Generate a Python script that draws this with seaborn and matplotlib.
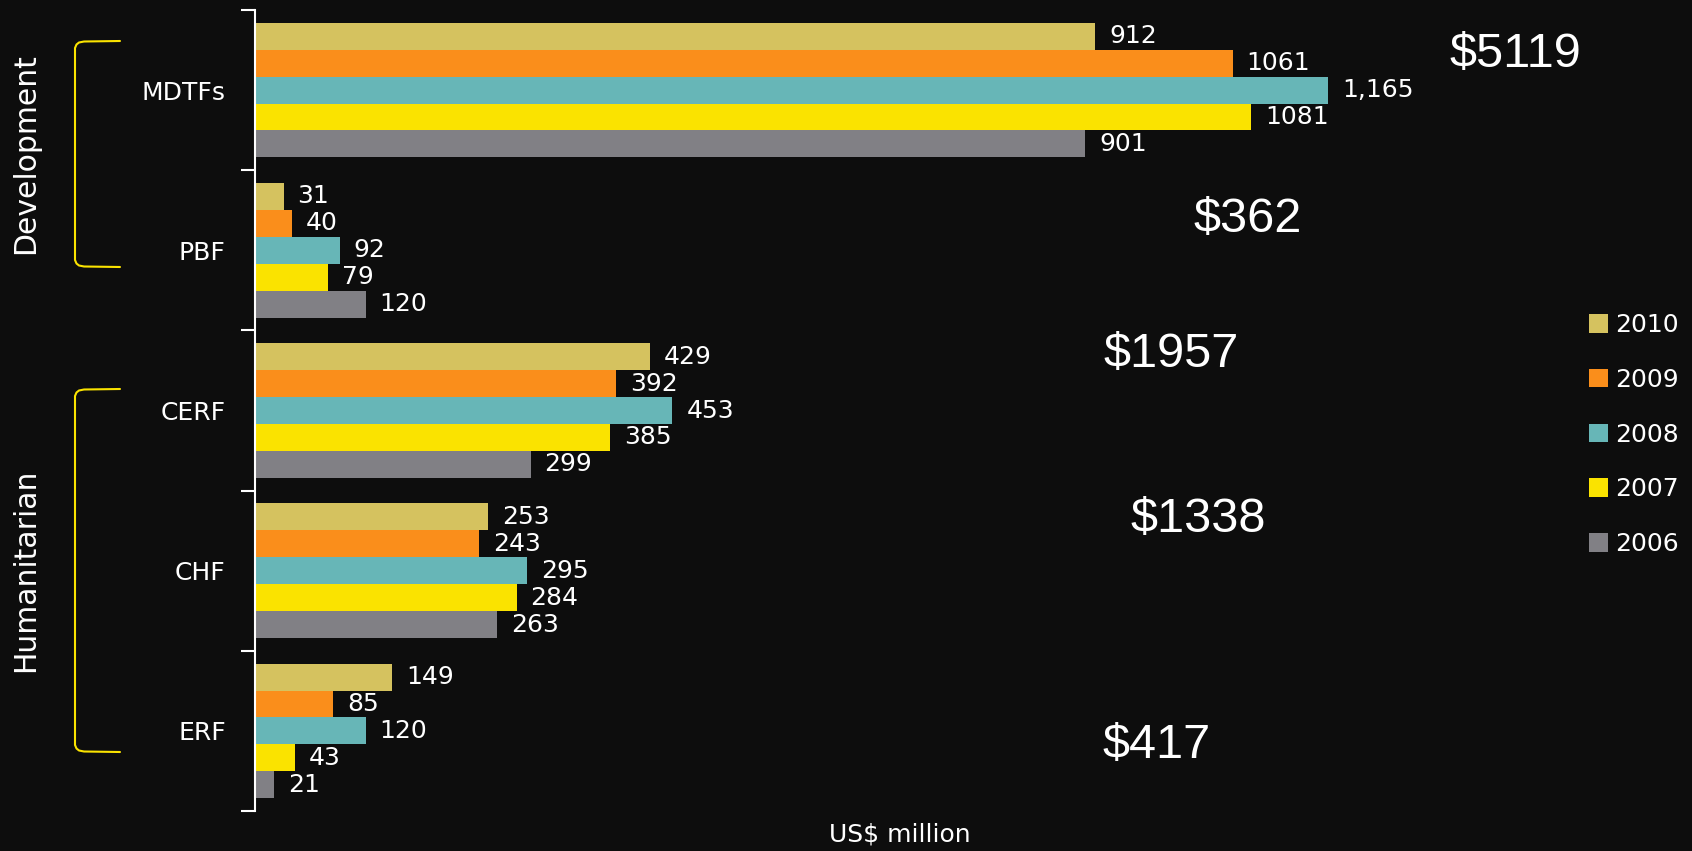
import matplotlib
matplotlib.use("Agg")
import matplotlib.pyplot as plt
import pandas as pd
import seaborn as sns
from matplotlib.lines import Line2D

# data
funds = ["MDTFs", "PBF", "CERF", "CHF", "ERF"]
years = ["2010", "2009", "2008", "2007", "2006"]
v2010 = [912, 31, 429, 253, 149]
v2009 = [1061, 40, 392, 243, 85]
v2008 = [1165, 92, 453, 295, 120]
v2007 = [1081, 79, 385, 284, 43]
v2006 = [901, 120, 299, 263, 21]
totals = ["$5119", "$362", "$1957", "$1338", "$417"]
groups = ["Development", "Humanitarian"]
comma_labels = {("MDTFs", "2008")}  # the one label printed with a thousands separator

colors = ["#d5c25f", "#fa8e1b", "#67b6b7", "#fae300", "#818085"]
BG = "#0d0d0d"
W, H = 1692, 851

rows = []
for yr, vals in zip(years, [v2010, v2009, v2008, v2007, v2006]):
    for f, v in zip(funds, vals):
        rows.append({"fund": f, "year": yr, "value": v})
df = pd.DataFrame(rows)

sns.set_theme(style="ticks")
plt.rcParams["font.family"] = ["DejaVu Sans"]
plt.rcParams["text.color"] = "white"

fig = plt.figure(figsize=(W / 100, H / 100), dpi=100, facecolor=BG)
ax = fig.add_axes([255 / W, 1 - 811 / H, (1545 - 255) / W, (811 - 10) / H])
ax.set_facecolor(BG)

sns.barplot(data=df, y="fund", x="value", hue="year", order=funds,
            hue_order=years, palette=colors, width=0.84, orient="h",
            saturation=1, errorbar=None, linewidth=0, ax=ax)

for cont, yr in zip(ax.containers, years):
    vals = df[df["year"] == yr].set_index("fund").loc[funds, "value"]
    labs = [f"{v:,}" if (f, yr) in comma_labels else str(v) for f, v in vals.items()]
    ax.bar_label(cont, labels=labs, padding=10, color="white", fontsize=18)

ax.set_xlim(0, 1400)
ax.set_ylim(4.5, -0.5)
ax.set_yticks(range(len(funds)))
ax.set_yticklabels(funds)
ax.set_yticks([i - 0.5 for i in range(len(funds) + 1)], minor=True)
ax.tick_params(axis="y", which="major", length=0, pad=21, labelsize=18, labelcolor="white")
ax.tick_params(axis="y", which="minor", left=True, length=10, width=1.5, color="white")
ax.tick_params(axis="x", bottom=False, labelbottom=False)
for s in ["top", "right", "bottom"]:
    ax.spines[s].set_visible(False)
ax.spines["left"].set_color("white")
ax.spines["left"].set_linewidth(1.5)
ax.set_ylabel("")
ax.set_xlabel("US$ million", color="white", fontsize=18, labelpad=8)

# fund totals
tot_x = [1368, 1077, 994, 1024, 978]
tot_dy = [-0.225, -0.19, -0.35, -0.32, 0.09]
for i, t in enumerate(totals):
    ax.text(tot_x[i], i + tot_dy[i], t, ha="center", va="center", fontsize=35,
            color="white", family="Liberation Sans")

# group brackets and labels (rounded corners)
for top, bot, name in [(41, 267, groups[0]), (389, 752, groups[1])]:
    px = [120, 84, 79, 76.5, 75, 75, 76.5, 79, 84, 120]
    py = [top, top + 0.5, top + 1.5, top + 3.5, top + 7,
          bot - 7, bot - 3.5, bot - 1.5, bot - 0.5, bot]
    fig.add_artist(Line2D([x / W for x in px], [1 - y / H for y in py],
                          color="#fae300", lw=1.5, transform=fig.transFigure))
    fig.text(26 / W, 1 - (top + bot) / 2 / H, name, rotation=90, ha="center",
             va="center", fontsize=21.5, color="white")

sns.move_legend(ax, loc="center left", bbox_to_anchor=(1589 / W, 1 - 434.5 / H),
                bbox_transform=fig.transFigure, frameon=False, title=None,
                fontsize=18, labelcolor="white", handlelength=0.76,
                handleheight=0.76, handletextpad=0.3, labelspacing=1.23,
                borderpad=0, borderaxespad=0)

fig.savefig("out.png", dpi=100, facecolor=BG)
